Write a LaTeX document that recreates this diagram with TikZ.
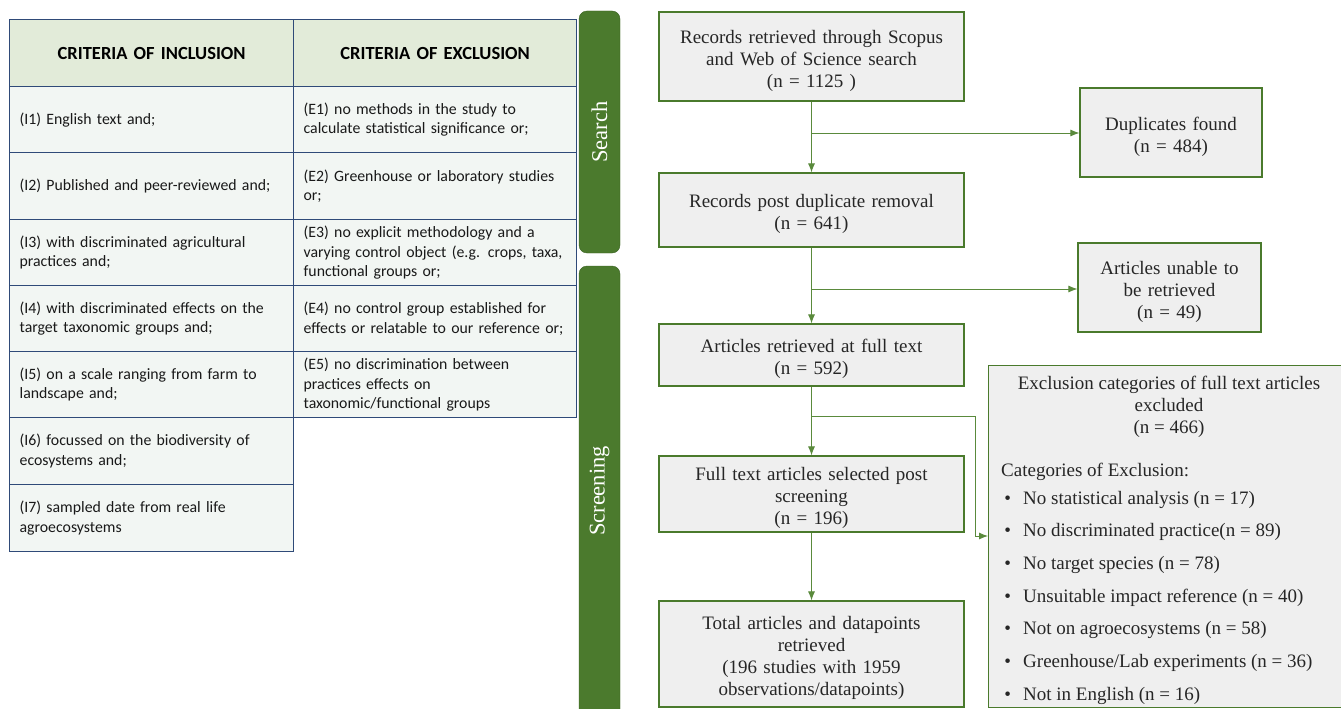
\documentclass[tikz,border=0pt]{standalone}
\usepackage{fontspec}
\setmainfont{Liberation Serif}
\newfontfamily\tabfont{Carlito}
\usetikzlibrary{arrows.meta}
\definecolor{tblue}{HTML}{2F4A78}
\definecolor{headfill}{HTML}{E2EBD9}
\definecolor{cellfill}{HTML}{F2F6F3}
\definecolor{boxgreen}{HTML}{4A7A2C}
\definecolor{linegreen}{HTML}{5A8A3C}
\definecolor{boxfill}{HTML}{EFEFEF}
\definecolor{bargreen}{HTML}{4B7A2D}
\tikzset{
 tcell/.style={draw=tblue, line width=1.3pt, fill=cellfill, anchor=north west, inner xsep=10pt, inner ysep=0pt, align=left, font=\tabfont\fontsize{15.8}{19.5}\selectfont, text=black!90},
 thead/.style={tcell, fill=headfill, align=center, font=\tabfont\bfseries\fontsize{18.5}{20}\selectfont, text=black},
 fbox/.style={draw=boxgreen, line width=1.2pt, fill=boxfill, align=center, font=\fontsize{19}{22}\selectfont, inner sep=0pt, text=black!85, execute at begin node={\rule{0pt}{21.5pt}}},
 arr/.style={draw=linegreen, line width=0.9pt, -{Latex[length=9pt,width=7pt]}},
 phase/.style={fill=bargreen, draw=bargreen!80!black, rounded corners=8pt, text=white, font=\fontsize{22.5}{24}\selectfont, inner sep=0pt},
 etext/.style={font=\fontsize{19}{22}\selectfont, text=black!85, inner sep=0pt},
}
\begin{document}
\begin{tikzpicture}[x=1pt,y=-1pt]
\useasboundingbox (0,0) rectangle (1341,709);
\fill[white] (0,0) rectangle (1341,709);
% table
\node[thead, minimum width=284pt, minimum height=67pt, text width=264pt] (h1) at (9,19) {CRITERIA OF INCLUSION};
\node[thead, minimum width=283pt, minimum height=67pt, text width=263pt] (h2) at (293,19) {CRITERIA OF EXCLUSION};
\node[tcell, minimum height=66pt, text width=264pt] (i1) at (9,86) {(I1) English text and;};
\node[tcell, minimum height=67pt, text width=264pt] (i2) at (9,152) {(I2) Published and peer-reviewed and;};
\node[tcell, minimum height=66pt, text width=264pt] (i3) at (9,219) {(I3) with discriminated agricultural\\practices and;};
\node[tcell, minimum height=66pt, text width=264pt] (i4) at (9,285) {(I4) with discriminated effects on the\\target taxonomic groups and;};
\node[tcell, minimum height=66pt, text width=264pt] (i5) at (9,351) {(I5) on a scale ranging from farm to\\landscape and;};
\node[tcell, minimum height=67pt, text width=264pt] (i6) at (9,417) {(I6) focussed on the biodiversity of\\ecosystems and;};
\node[tcell, minimum height=67pt, text width=264pt] (i7) at (9,484) {(I7) sampled date from real life\\agroecosystems};
\node[tcell, minimum height=66pt, text width=263pt] (e1) at (293,86) {(E1) no methods in the study to\\calculate statistical significance or;};
\node[tcell, minimum height=67pt, text width=263pt] (e2) at (293,152) {(E2) Greenhouse or laboratory studies\\or;};
\node[tcell, minimum height=66pt, text width=263pt] (e3) at (293,219) {(E3) no explicit methodology and a\\varying control object (e.g. crops, taxa,\\functional groups or;};
\node[tcell, minimum height=66pt, text width=263pt] (e4) at (293,285) {(E4) no control group established for\\effects or relatable to our reference or;};
\node[tcell, minimum height=66pt, text width=263pt] (e5) at (293,351) {(E5) no discrimination between\\practices effects on\\taxonomic/functional groups};
% phase bars
\node[phase, rotate=90, minimum width=242pt, minimum height=41pt] (search) at (599.5,132) {Search};
\node[phase, rotate=90, minimum width=454pt, minimum height=41pt] (screen) at (599.5,493) {};
\node[text=white, font=\fontsize{22.5}{24}\selectfont, rotate=90, inner sep=0pt] (screenlbl) at (599.5,491) {Screening};
% flow boxes
\node[fbox, text width=300pt, minimum width=305pt, minimum height=89pt] (b1) at (811.5,56.5) {Records retrieved through Scopus\\and Web of Science search\\(n = 1125 )};
\node[fbox, text width=300pt, minimum width=305pt, minimum height=74pt] (b2) at (811.5,210) {Records post duplicate removal\\(n = 641)};
\node[fbox, text width=300pt, minimum width=305pt, minimum height=62pt] (b3) at (811.5,355) {Articles retrieved at full text\\(n = 592)};
\node[fbox, text width=300pt, minimum width=305pt, minimum height=76pt] (b4) at (811.5,494) {Full text articles selected post\\screening\\(n = 196)};
\node[fbox, text width=300pt, minimum width=305pt, minimum height=106pt] (b5) at (811.5,654) {Total articles and datapoints\\retrieved\\(196 studies with 1959\\observations/datapoints)};
\node[fbox, text width=176pt, minimum width=182pt, minimum height=89pt] (dup) at (1171,132.5) {Duplicates found\\(n = 484)};
\node[fbox, text width=177pt, minimum width=183pt, minimum height=89pt] (ua) at (1169.5,287.5) {Articles unable to\\be retrieved\\(n = 49)};
\node[draw=boxgreen, line width=1.2pt, fill=boxfill, inner sep=0pt, anchor=north west, minimum width=360pt, minimum height=342pt] (exc) at (988,365) {};
\node[etext, align=center] (exct) at (1169,407) {Exclusion categories of full text articles\\excluded\\(n = 466)};
\node[etext, anchor=west] (cat) at (1001,471.5) {Categories of Exclusion:};
\foreach \t [count=\i] in {No statistical analysis (n = 17),No discriminated practice(n = 89),No target species (n = 78),Unsuitable impact reference (n = 40),Not on agroecosystems (n = 58),Greenhouse/Lab experiments (n = 36),Not in English (n = 16)}{
  \node[etext, anchor=west] (c\i) at (1001,{499.5+32.7*(\i-1)}) {\makebox[22pt][l]{\,\textbullet}\t};
}
% connectors
\coordinate (j1) at (811.5,133);
\coordinate (j2) at (811.5,289);
\coordinate (j3) at (811.5,416);
\coordinate (k1) at (975,416);
\coordinate (k2) at (975,536);
\draw[arr] (b1) -- (b2);
\draw[arr] (b2) -- (b3);
\draw[arr] (b3) -- (b4);
\draw[arr] (b4) -- (b5);
\draw[arr] (j1) -- (j1 -| dup.west);
\draw[arr] (j2) -- (j2 -| ua.west);
\draw[arr] (j3) -- (k1) -- (k2) -- (k2 -| exc.west);
\end{tikzpicture}
\end{document}
